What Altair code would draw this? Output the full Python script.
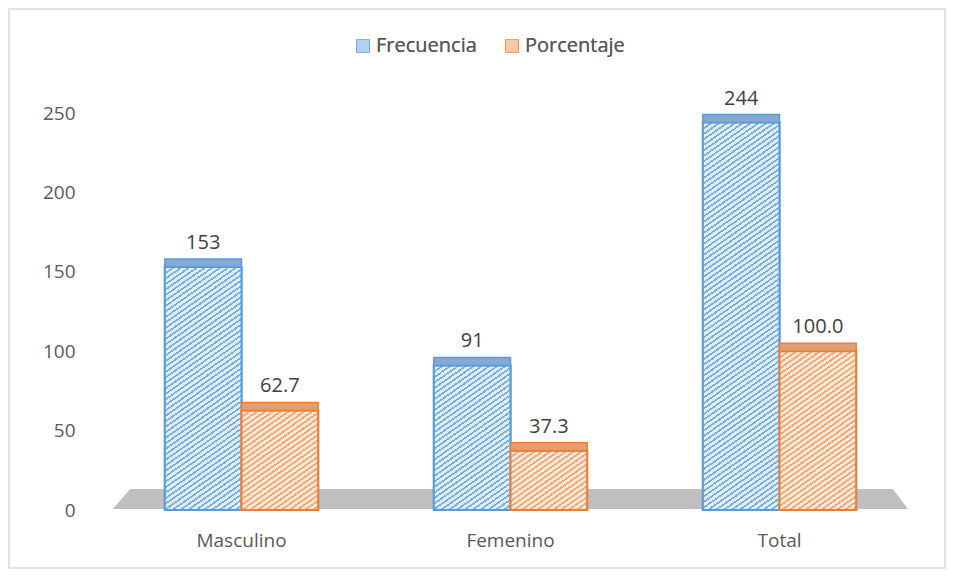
import math
import altair as alt
import pandas as pd

categories = ["Masculino", "Femenino", "Total"]
series = ["Frecuencia", "Porcentaje"]
frecuencia = [153, 91, 244]
porcentaje = [62.7, 37.3, 100.0]
frecuencia_labels = ["153", "91", "244"]
porcentaje_labels = ["62.7", "37.3", "100.0"]
y_ticks = [0, 50, 100, 150, 200, 250]

rows = []
for i, c in enumerate(categories):
    rows.append({"categoria": c, "serie": series[0], "valor": frecuencia[i], "etiqueta": frecuencia_labels[i]})
    rows.append({"categoria": c, "serie": series[1], "valor": porcentaje[i], "etiqueta": porcentaje_labels[i]})
df = pd.DataFrame(rows)

FONT = "Open Sans"
W, H = 807, 397
Y_MAX = 250
P_INNER, P_OUTER = 0.43, 0.215
fills = ["#b4d0ee", "#f8c9a6"]
strokes = ["#5b9bd5", "#ed7d31"]
tops = ["#86a9d4", "#e09e74"]
hatch_line = ["#7aaee0", "#f3a673"]
hatch_bg = ["#e0eefb", "#fde8d8"]

x = alt.X("categoria:N", sort=categories,
          scale=alt.Scale(paddingInner=P_INNER, paddingOuter=P_OUTER),
          axis=alt.Axis(title=None, labelAngle=0, domain=False, ticks=False,
                        labelPadding=21, labelFontSize=19, labelColor="#595959",
                        labelFont=FONT, labelBaseline="top"))
xo = alt.XOffset("serie:N", sort=series, scale=alt.Scale(paddingInner=0, paddingOuter=0))
y = alt.Y("valor:Q", scale=alt.Scale(domain=[0, Y_MAX], nice=False),
          axis=alt.Axis(values=y_ticks, title=None, grid=False, domain=False, ticks=False,
                        labelPadding=32, labelFontSize=19, labelColor="#595959", labelFont=FONT))

leg = alt.Legend(orient="none", legendX=246, legendY=-77, direction="horizontal", title=None,
                 symbolType="square", symbolSize=150, symbolStrokeWidth=1.5,
                 labelFontSize=20, labelColor="#595959", labelFont=FONT,
                 columnPadding=25, labelOffset=3)

color = alt.Color("serie:N", sort=series, scale=alt.Scale(domain=series, range=fills), legend=leg)
stroke = alt.Stroke("serie:N", sort=series, scale=alt.Scale(domain=series, range=strokes), legend=leg)

base = alt.Chart(df)

bars = base.mark_bar(strokeWidth=2, opacity=1, fillOpacity=1).encode(
    x=x, xOffset=xo, y=y, fill=color, stroke=stroke
)


def hatch(w, h, line_col, bg_col, angle_deg=35.0, period=4.5, line_w=1.7):
    """Diagonal hatch as a linear gradient in bounding-box units."""
    a = math.radians(angle_deg)
    nx, ny = math.sin(a), math.cos(a)
    L = w * nx + h * ny
    c = L / (nx * nx * w * w + ny * ny * h * h)
    x2, y2 = c * nx * w, c * ny * h
    stops = []
    n = int(math.ceil(L / period))
    for i in range(n):
        s = i * period / L
        if s >= 1.0:
            break
        e = min(1.0, (i * period + line_w) / L)
        nxt = min(1.0, (i + 1) * period / L)
        stops += [alt.GradientStop(offset=s, color=line_col),
                  alt.GradientStop(offset=e, color=line_col),
                  alt.GradientStop(offset=e, color=bg_col),
                  alt.GradientStop(offset=nxt, color=bg_col)]
    return alt.LinearGradient(gradient="linear", stops=stops, x1=0, y1=0, x2=x2, y2=y2)


step = W / (len(categories) - P_INNER + 2 * P_OUTER)
bar_w = step * (1 - P_INNER) / len(series)
hatched = []
for _, r in df.iterrows():
    si = series.index(r["serie"])
    h = r["valor"] / Y_MAX * H
    g = hatch(bar_w, h, hatch_line[si], hatch_bg[si])
    layer = base.transform_filter(
        (alt.datum.categoria == r["categoria"]) & (alt.datum.serie == r["serie"])
    ).mark_bar(fill=g, stroke=strokes[si], strokeWidth=2).encode(x=x, xOffset=xo, y=y)
    hatched.append(layer)

topfaces = base.mark_bar(strokeWidth=1.5, y2Offset=-8).encode(
    x=x, xOffset=xo, y=alt.Y("valor:Q"), y2=alt.Y2("valor:Q"),
    fill=alt.Fill("serie:N", sort=series, scale=alt.Scale(domain=series, range=tops), legend=None),
    stroke=stroke
)

labels = base.mark_text(dy=-18, baseline="alphabetic", fontSize=20, font=FONT, color="#404040").encode(
    x=x, xOffset=xo, y=alt.Y("valor:Q"), text="etiqueta:N"
)

one = alt.Data(values=[{"k": 1}])

border = alt.Chart(one).mark_rect(fill="transparent", stroke="#d9d9d9", strokeWidth=1.5).encode(
    x=alt.value(-98), x2=alt.value(838), y=alt.value(-104), y2=alt.value(455)
)

floor = alt.Chart(one).mark_point(
    shape="M -1 0 L 1 0 L 0.962 -0.0503 L -0.957 -0.0503 Z",
    filled=True, fill="#bfbfbf", stroke="transparent", opacity=1, size=632025
).encode(x=alt.value(403.5), y=alt.value(396))

chart = alt.layer(border, floor, bars, *hatched, topfaces, labels).resolve_scale(
    fill="independent"
).properties(
    width=W, height=H,
    autosize=alt.AutoSizeParams(type="none"),
    padding={"left": 99, "top": 105, "right": 33, "bottom": 59},
    background="white"
).configure_view(stroke="transparent")

chart.save("out.html", embed_options={"renderer": "svg", "actions": False})
